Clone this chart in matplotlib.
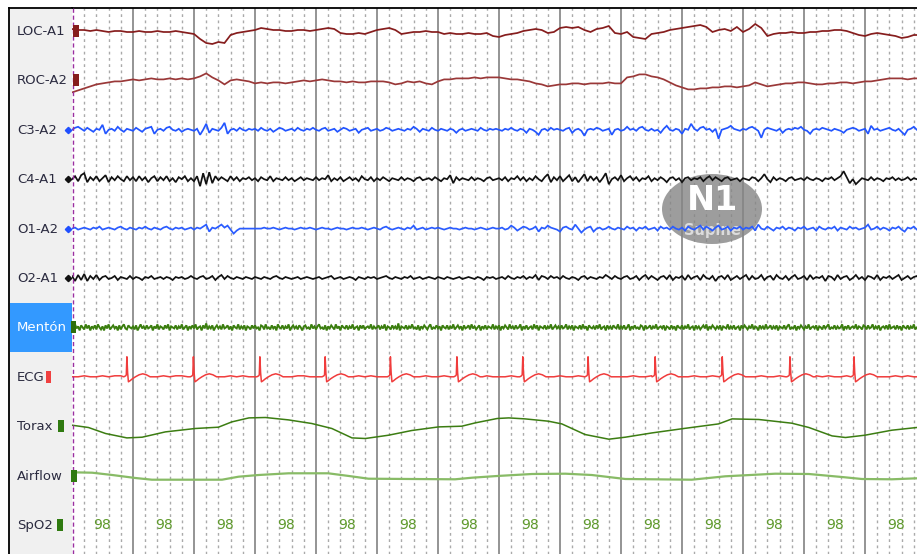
import matplotlib.pyplot as plt
import numpy as np
from matplotlib.patches import Rectangle, Ellipse

# montage, top to bottom
channels = ['LOC-A1', 'ROC-A2', 'C3-A2', 'C4-A1', 'O1-A2', 'O2-A1',
            'Mentón', 'ECG', 'Torax', 'Airflow', 'SpO2']

# EOG, 10 samples/s (deflection, up = positive)
loc_a1 = [2, 1, 1, 0, 1, 0, -1, 0, 0, -1,
          -1, 0, -1, -1, 0, -1, -1, 0, -1, -2,
          -3, -8, -12, -13, -11, -12, -4, -2, -1, 0,
          1, 3, 2, 1, 1, 0, 0, 1, 1, 0,
          1, 2, 3, 2, -2, -3, -3, -2, -3, -1,
          1, 2, 3, 1, -3, -2, -1, -1, 0, -1,
          -1, -3, -2, -3, -3, -2, -3, -3, -2, -5,
          -6, -4, -3, -2, 0, 1, 2, 1, -2, -1,
          3, 4, 3, 4, 1, -1, 2, 3, 5, -2,
          -3, -1, -6, -7, -8, -3, -2, -1, 1, 2,
          3, 4, 5, 6, 4, -1, 1, 2, 0, 4,
          -1, 2, 7, 3, -5, -3, -2, -2, -1, -2,
          -2, -1, -1, 0, 0, 1, 1, 0, -2, -4,
          -5, -3, -2, -3, -4, -5, -7, -6, -4, -4]
roc_a2 = [-12, -10, -8, -6, -4, -3, -2, -1, -1, 0,
          1, 0, 1, 2, 1, 1, 2, 1, 2, 1,
          2, 4, 7, 3, 0, -4, 0, 1, 0, -1,
          -3, -2, -3, -2, -2, -3, -2, -1, 0, -1,
          0, 1, 0, -1, -1, -2, -1, -2, -2, -1,
          -1, -1, -2, -4, -3, -1, -2, -1, -3, -4,
          -1, 1, 1, 2, 2, 2, 3, 2, 3, 3,
          3, 2, 1, 1, 0, -1, -3, -4, -6, -5,
          -4, -4, -3, -3, -4, -3, -3, -3, -2, -3,
          -3, 3, 4, 6, 6, 4, 3, 1, -2, -5,
          -7, -9, -9, -8, -8, -7, -7, -6, -6, -7,
          -6, -5, -2, -4, -6, -5, -4, -3, -3, -2,
          -2, -3, -4, -4, -3, -3, -2, -2, -3, -2,
          -1, -1, 0, 1, 2, 2, 2, 1, 2, 2]

# EEG, 20 samples/s
c3_a2 = [0, 2, 3, 1, -1, 2, 0, -2, 1, 0, 5, -4, 0, 1, -1, 3, 0, -2, 1, 0,
         -1, 2, 0, -2, 1, 2, 3, -4, 0, 1, -1, 2, 3, 0, -1, 1, -2, 0, 1, 0,
         -1, 1, -5, 0, 6, -3, 1, 0, -1, 2, 7, -4, 0, 1, -1, 2, 0, -1, 1, 0,
         1, -1, 2, 0, -1, 1, -2, 0, 2, 1, -1, 0, 1, -1, 2, 0, -1, 1, 0, 2,
         0, -1, 1, 2, -1, 0, 1, -2, 0, 2, 1, -1, 0, 1, -3, 0, 1, 2, -1, 0,
         1, -1, 0, 2, 1, -1, 0, 1, 0, -1, 1, 0, 3, 1, -2, 1, 0, -1, 2, 0,
         -1, 1, 0, -1, 1, 0, -3, 0, 1, -1, 0, 1, 0, -1, 2, 0, -1, 1, 0, 1,
         0, -1, 1, 0, 2, 0, -1, 1, 0, -3, 1, 0, -2, -5, 0, 1, -1, 2, 0, 1,
         0, -1, 1, 2, -3, 0, 1, -1, -6, 0, 1, 0, 2, 1, -1, 0, 1, -5, 0, 1,
         -1, 0, 3, 0, 1, -1, 2, 3, 0, -1, 1, -1, 0, -3, 1, 4, 0, -1, 1, 0,
         -4, 1, 0, 6, 1, -1, 2, 3, 0, 1, -2, 1, -9, 0, 1, 2, 4, 1, 0, -1,
         1, 0, 2, 3, 1, -1, -8, 0, 2, 1, 0, -1, 1, -3, 0, 1, 0, 2, 1, 3,
         0, -1, -4, 0, 1, 0, 2, 1, 0, -1, 1, 0, -1, -3, 0, 1, 2, 1, -1, 0,
         1, -4, 4, 0, 1, -1, 0, 1, 2, 0, -1, 1, -2, -5, 0, 1, 3, 0, 1, 0]
c4_a1 = [0, 3, -2, 4, 6, -3, 2, -1, 3, -2, 1, 4, -3, 2, -1, 3, 0, -2, 3, -1,
         2, -2, 3, -1, 2, -3, 1, 3, -2, 2, -1, 3, -2, 1, -3, 2, 0, 3, -2, 1,
         -2, 3, -7, 6, -5, 7, -4, 3, -1, 2, 0, -2, 3, -1, 2, -2, 1, 0, 2, -1,
         1, -2, 2, 0, -1, 3, -2, 1, 0, -1, 2, -1, 1, -2, 0, 2, -1, 1, 0, -1,
         2, -1, 1, 0, 4, -2, 1, -1, 2, -2, 0, 2, -1, 1, -2, 3, 0, -1, 2, -2,
         1, -1, 2, 0, -2, 1, 0, -1, 2, -1, 1, 0, -2, 1, 2, -1, 0, 1, -1, 2,
         0, -2, 1, 0, 4, -4, 2, -1, 1, 0, -1, 2, -1, 1, 0, -2, 1, 2, -1, 0,
         1, -1, 2, -2, 1, 0, 3, -1, 2, -2, 1, -1, 3, 0, -2, 2, 5, -3, 2, -1,
         3, -2, 1, 4, -2, 2, -3, 1, 5, -2, 3, -1, 2, -3, 1, 6, -5, 0, 2, -1,
         4, -2, 1, 3, -1, 2, -2, 1, 0, 3, -2, 1, -1, 2, 0, -3, 1, 2, -1, 1,
         -3, 1, 2, -1, 1, 0, 2, -2, 1, 3, -1, 2, 0, -2, 1, 2, -1, 0, 1, -2,
         1, 0, -1, 2, 1, -2, 1, 5, 0, -3, 2, -1, 1, 0, -2, 1, 2, -1, 0, 1,
         -1, 2, 0, -1, 1, 0, -2, 1, 0, 2, -1, 1, 3, 8, 2, -4, 0, -5, -2, 1,
         0, -1, 2, -1, 1, 0, -2, 1, 0, 2, -1, 1, -1, 0, 2, -1, 1, 0, -1, 1]
o1_a2 = [0, 1, -1, 0, 1, 0, -1, 1, 0, 2, -1, 0, 1, 0, -1, 1, 2, 0, -1, 1,
         0, -1, 1, 0, 2, 0, -1, 1, 0, -1, 1, 2, 0, -1, 1, 0, 1, -1, 0, 1,
         -1, 1, 0, 2, 4, -3, 1, 0, 2, 4, 1, 3, -1, -5, -2, 0, 0, 0, 0, 0,
         0, 0, 0, 1, 0, 0, 1, 0, -1, 0, 1, 0, 0, -1, 0, 1, 0, 0, 1, 0,
         -1, 0, 1, 0, 0, -1, 0, 1, 0, 0, -1, 0, 1, 0, 0, 1, 0, -1, 0, 1,
         0, -1, 1, 2, 0, -1, 0, 1, 0, -1, 1, 0, 3, -1, 0, 1, -1, 0, 1, 0,
         1, 0, -1, 0, 1, 0, 0, -1, 0, 1, 0, 0, -1, 0, 1, 0, -1, 0, 1, 0,
         0, 1, -1, 0, 3, 1, -2, 0, 2, 1, -1, 0, 2, -3, 1, 0, 3, 1, 0, -1,
         -3, 1, 2, 0, -1, 4, 0, -4, -1, 1, 2, -3, 0, 1, -1, 0, 2, 0, -1, 1,
         0, -1, 2, 0, 1, -2, 1, 0, 2, -1, 0, 1, -2, 2, 0, 1, -1, 2, 0, -1,
         1, -2, 2, 0, -1, 1, 3, -1, 2, 0, -2, 1, 3, -1, 0, 2, -2, 1, 0, 2,
         -1, 1, 0, 2, -2, 4, 0, -1, 2, 0, -2, 1, 0, 2, -1, 1, 0, -2, 1, 0,
         2, -1, 0, 1, -2, 2, 0, -1, 1, 0, 2, -2, 1, 0, -1, 2, 0, 1, -1, 0,
         1, 4, -1, 0, 2, -1, 1, 0, -2, 1, 0, 2, -1, -3, 1, 0, 2, -1, 0, 1]
o2_a1 = [2, -3, 3, -2, 4, -3, 2, -1, 3, -2, 1, 2, -1, 0, 2, -2, 1, 0, -1, 2,
         -1, 1, 0, -2, 1, 0, 2, -1, 0, 1, -1, 1, 0, -2, 1, 0, 1, -1, 0, 2,
         0, -1, 1, 2, -1, 0, 2, -2, 1, 3, -1, 2, 0, -1, 1, 0, -1, 1, 0, -1,
         1, 0, -1, 1, 0, -1, 1, 2, 0, -1, 1, 0, -1, 0, 1, -1, 0, 1, 0, -1,
         0, 1, -1, 0, 1, 2, -1, 0, 1, -1, 0, 1, 0, -2, 1, 0, -1, 1, 0, 1,
         -1, 0, 1, 2, 0, -1, 1, 0, -1, 1, 0, 2, -1, 0, 1, -1, 0, 1, 0, -1,
         1, 0, -1, 1, 0, -1, 0, 1, -1, 0, 1, 0, -1, 1, 0, -2, 1, 0, 1, -1,
         0, 1, -1, 2, 0, -1, 1, 0, 2, -1, 1, 0, 3, -2, 2, 1, -1, 2, 0, 1,
         -1, 2, 0, -1, 1, 0, -2, 1, 2, -1, 1, 0, -1, 1, 0, 3, 1, -1, 2, 0,
         -1, 1, 2, -1, 0, 2, -2, 1, 3, -1, 2, 0, -2, 1, 2, -1, 3, -2, 1, 0,
         2, -2, 3, -1, 1, 2, -2, 3, 0, -1, 2, -3, 1, 2, -1, 3, -2, 0, 2, -1,
         1, 3, -2, 2, -1, 0, 3, -2, 1, 2, -2, 3, 0, -1, 2, -2, 1, 3, -1, 0,
         2, -2, 3, -1, 1, 0, 2, -3, 2, 1, -2, 3, -1, 1, 2, -2, 0, 3, -1, 1,
         -2, 2, 1, -1, 3, -2, 1, 0, 2, -1, 1, 3, -2, 0, 2, -1, 1, 2, -2, 1]

# chin EMG, 40 samples/s
menton = [2, -2, 3, -1, 1, -3, 2, 0, -2, 3, -1, 2, -3, 1, -1, 2, -2, 3, 0, -2, 1, -3, 2, -1, 3, -2, 0, 2, -1, 1, -3, 2, -2, 1, 3, -1, -2, 2, 0, -1,
          1, -2, 2, -3, 0, 3, -1, 1, -2, 2, -1, 0, 2, -3, 1, -1, 3, -2, 1, 0, -2, 2, -1, 3, -3, 1, 0, -1, 2, -2, 1, -1, 3, -2, 0, 2, -3, 1, -1, 2,
          -1, 3, -2, 0, 1, -3, 2, -1, 4, -2, 1, -1, 2, -3, 0, 2, -1, 1, -2, 3, -1, 0, 2, -2, 1, -3, 2, 0, -1, 3, -2, 1, -1, 2, -3, 1, 0, -2, 2, -1,
          2, -1, 0, -3, 2, 1, -2, 3, -1, 0, -2, 2, -1, 1, -3, 3, 0, -1, 2, -2, 1, -1, 3, -3, 0, 2, -1, 1, -2, 2, 0, -3, 1, 2, -1, 0, -2, 3, -1, 1,
          -2, 1, 3, -1, 0, -2, 2, -3, 1, -1, 2, 0, -2, 3, -1, 1, -3, 2, 0, -1, 2, -2, 1, -1, 3, -2, 0, 1, -3, 2, -1, 2, -2, 0, 1, -1, 3, -2, 1, -1,
          0, 2, -2, 1, -1, 3, -3, 1, 0, -2, 2, -1, 1, -2, 4, -3, 1, 0, -1, 2, -2, 1, -1, 3, -1, 0, -2, 2, -3, 1, -1, 2, 0, -2, 1, 3, -2, 0, -1, 2,
          -1, 1, -3, 2, 0, -1, 2, -2, 1, -1, 3, -2, 0, 2, -1, 1, -3, 2, -1, 0, 2, -2, 3, -1, 1, -2, 0, 2, -3, 1, -1, 2, -2, 1, 0, -1, 3, -2, 1, -1,
          2, -3, 1, -1, 2, 0, -2, 3, -1, 1, -2, 2, -1, 0, 3, -3, 1, -1, 2, -2, 0, 1, -2, 3, -1, 2, -3, 1, 0, -1, 2, -2, 1, -1, 3, -2, 0, 2, -1, 1,
          -2, 2, -1, 0, 3, -2, 1, -1, 2, -3, 1, 0, -1, 2, -2, 3, -1, 1, -3, 2, 0, -1, 1, -2, 2, -1, 3, -2, 0, 1, -3, 2, -1, 1, -2, 2, 0, -1, 3, -2,
          1, -1, 2, -2, 0, 3, -3, 1, -1, 2, -1, 0, -2, 2, 1, -3, 2, -1, 0, 2, -2, 1, -1, 3, -2, 0, 1, -1, 2, -3, 1, 0, -2, 2, -1, 1, -3, 2, 0, -1,
          2, -2, 1, -1, 3, -2, 0, 1, -3, 2, -1, 1, -2, 0, 2, -1, 3, -3, 1, -1, 2, 0, -2, 1, -1, 2, -3, 1, 0, -1, 3, -2, 1, -1, 2, -2, 0, 1, -3, 2,
          -1, 2, 0, -2, 1, -1, 3, -2, 1, 0, -3, 2, -1, 1, -2, 3, -1, 0, 2, -2, 1, -1, 2, -3, 1, 0, -1, 2, -2, 1, 3, -2, 0, -1, 2, -3, 1, -1, 2, 0,
          -2, 1, -1, 3, -2, 0, 1, -1, 2, -3, 1, 0, -2, 2, -1, 1, 3, -2, 0, -1, 2, -2, 1, -1, 0, 3, -3, 1, -1, 2, -2, 0, 1, -1, 3, -2, 1, 0, -2, 2,
          1, -2, 2, -1, 0, 3, -2, 1, -1, 2, -3, 0, 1, -1, 2, -2, 3, -1, 0, 1, -2, 2, -1, 1, -3, 2, 0, -1, 2, -2, 1, -1, 3, -2, 0, 1, -1, 2, -2, 1]

# ECG: R-peak times (s), beat shape around each peak, baseline at 10 samples/s
ecg_r_peaks = [0.90, 1.99, 3.08, 4.15, 5.22, 6.31, 7.39, 8.46, 9.56, 10.66, 11.77, 12.82]
beat_offsets = [-0.05, -0.02, -0.01, 0.0, 0.012, 0.025, 0.05, 0.09, 0.14, 0.2, 0.26, 0.32, 0.38, 0.42]
beat_shape = [0, 1, 2, 20, 4, -5, -4, -2, 0, 2, 3, 2, 0, 0]
ecg_baseline = [0, 0, 1, 0, 0, 1, 0, 1, 1, 0,
                0, 0, 1, 0, 0, 1, 0, 1, 1, 0,
                1, 0, 0, 1, 0, 0, 1, 0, 1, 0,
                0, 1, 0, 0, 1, 0, 0, 1, 1, 0,
                0, 0, 1, 0, 1, 0, 0, 1, 0, 1,
                0, 0, 0, 1, 0, 0, 1, 0, 1, 0,
                0, 1, 0, 0, 1, 0, 1, 0, 1, 0,
                0, 0, 1, 0, 0, 1, 0, 0, 1, 0,
                1, 0, 0, 1, 0, 0, 1, 0, 1, 0,
                0, 0, 1, 0, 0, 1, 0, 1, 0, 1,
                0, 0, 1, 0, 0, 1, 0, 1, 0, 0,
                1, 0, 0, 1, 0, 0, 1, 0, 1, 0,
                0, 0, 1, 0, 1, 0, 0, 1, 0, 1,
                0, 0, 1, 0, 0, 1, 0, 1, 0, 0]

# respiratory effort and airflow (time in s, deflection)
torax_t = [0, 0.27, 0.55, 0.9, 1.15, 1.53, 2.02, 2.4, 2.62, 2.9, 3.17, 3.55, 3.93, 4.26,
           4.59, 4.81, 5.19, 5.57, 6.01, 6.39, 6.61, 6.97, 7.16, 7.43, 7.81, 8.03, 8.41,
           8.8, 9.07, 9.51, 10.03, 10.6, 10.82, 11.26, 11.8, 12.08, 12.46, 12.68, 13.0,
           13.44, 13.85]
torax = [1, -1.3, -7.3, -11.7, -11, -5.7, -2.3, -1, 4.3, 8.3, 8.7, 6.3, 2.7, -2.3,
         -11.7, -12.3, -9, -4.3, -0.7, 0, 3.3, 7.7, 8.3, 7.3, 5, 2.3, -8.3,
         -13, -11, -6.7, -2.3, 2.3, 7.3, 6.7, 3, -1.3, -9.7, -11.3, -9,
         -4, -1.3]
airflow_t = [0, 0.33, 0.66, 1.04, 1.31, 2.46, 2.73, 3.06, 3.55, 4.2, 4.54, 4.86, 6.28,
             6.56, 6.97, 7.54, 8.09, 8.52, 9.07, 10.16, 10.71, 11.53, 12.08, 12.62,
             12.95, 13.44, 13.85]
airflow = [3.3, 2.9, 0.6, -2.4, -4.1, -4.1, -1.1, 0.6, 2.3, 2.3, -0.4, -3.1, -3.7,
           -2.1, -0.4, 1.6, 1.9, 0.6, -3.4, -4.1, -0.7, 1.9, 1.6, -1.4,
           -3.4, -3.7, -2.7]

# SpO2 readout, one per second
spo2 = [98, 98, 98, 98, 98, 98, 98, 98, 98, 98, 98, 98, 98, 98]

W, H = 917, 554
PX_PER_S = 61.0
ROW0, ROW_STEP = 31, 49.4
rows = [ROW0 + ROW_STEP * i for i in range(len(channels))]

fig = plt.figure(figsize=(W / 100, H / 100), dpi=100)
fig.patch.set_facecolor('white')

# trace area (seconds on x, screen rows on y)
ax = fig.add_axes([72 / W, 0, (W - 72) / W, (H - 8) / H])
ax.set_xlim(0, (W - 72) / PX_PER_S)
ax.set_ylim(H, 8)
ax.set_xticks([])
ax.set_yticks([])
for s in ['left', 'right', 'bottom']:
    ax.spines[s].set_visible(False)
ax.spines['top'].set_linewidth(1.3)

# channel label panel
lab = fig.add_axes([9 / W, 0, 63 / W, (H - 8) / H])
lab.set_xlim(9, 72)
lab.set_ylim(H, 8)
lab.set_facecolor('#f0f0f0')
lab.set_xticks([])
lab.set_yticks([])
for s in ['right', 'bottom']:
    lab.spines[s].set_visible(False)
lab.spines['top'].set_linewidth(1.3)
lab.spines['left'].set_linewidth(1.3)

# grid: solid per second, dotted per 0.2 s
for k in range(1, 14):
    ax.axvline(k, color='#949494', lw=1.4, zorder=1)
for k in range(1, 70):
    if k % 5:
        ax.axvline(k * 0.2, color='#aaaaaa', lw=1.0, ls=(0, (2, 2.5)), zorder=1)
ax.axvline(0.01, color='#9a2fa0', lw=1.0, ls=(0, (3, 2)), zorder=5)

# sleep stage badge
bx = (712 - 72) / PX_PER_S
ax.add_patch(Ellipse((bx, 209), 100 / PX_PER_S, 70, color='#858585', alpha=0.8, lw=0, zorder=2))
ax.text(bx, 201, 'N1', color='white', fontsize=24, fontweight='bold',
        ha='center', va='center', family='DejaVu Sans', zorder=2.2)
ax.text(bx, 230, 'Supine', color='white', fontsize=10.5, fontweight='bold', alpha=0.65,
        ha='center', va='center', family='DejaVu Sans', zorder=2.2)


def trace(values, rate, row, color, lw=1.25):
    v = np.asarray(values, dtype=float)
    t = np.arange(len(v)) / rate
    ax.plot(t, row - v, color=color, lw=lw, zorder=3, solid_joinstyle='miter')


trace(loc_a1, 10, rows[0], '#861d1d')
trace(roc_a2, 10, rows[1], '#9a3838')
trace(c3_a2, 20, rows[2], '#2255ff')
trace(c4_a1, 20, rows[3], '#111111')
trace(o1_a2, 20, rows[4], '#2a5cff')
trace(o2_a1, 20, rows[5], '#111111')
trace(menton, 40, rows[6], '#3a7d0e', lw=1.4)

# ECG assembled from baseline and beats
base_t = np.arange(len(ecg_baseline)) / 10
keep = np.ones(len(base_t), bool)
for r in ecg_r_peaks:
    keep &= ~((base_t > r + beat_offsets[0] - 0.01) & (base_t < r + beat_offsets[-1] + 0.01))
et = list(base_t[keep])
ev = list(np.asarray(ecg_baseline, float)[keep])
for r in ecg_r_peaks:
    et += [r + o for o in beat_offsets]
    ev += beat_shape
order = np.argsort(et)
ax.plot(np.asarray(et)[order], rows[7] - np.asarray(ev)[order], color='#f03c3c', lw=1.1, zorder=3)

ax.plot(torax_t, rows[8] - np.asarray(torax), color='#3c7d12', lw=1.1, zorder=3)
ax.plot(airflow_t, rows[9] - np.asarray(airflow), color='#88bb66', lw=1.6, zorder=3)

for k, v in enumerate(spo2):
    ax.text(k + 0.5, rows[10], str(v), color='#5f9a2c', fontsize=10,
            ha='center', va='center', family='DejaVu Sans')

# labels and channel markers
lab.add_patch(Rectangle((10, rows[6] - 24.5), 62, 49, color='#3399ff', lw=0, zorder=1))
for i, name in enumerate(channels):
    lab.text(17, rows[i] + 0.5, name, fontsize=9.5, family='DejaVu Sans',
             color='white' if name == 'Mentón' else '#2b2b40', ha='left', va='center', zorder=3)

marks = {  # x-left, width, colour
    'LOC-A1': (72.5, 6, '#861d1d'), 'ROC-A2': (72.5, 6, '#861d1d'),
    'Mentón': (71, 5, '#2f6e0c'), 'ECG': (46, 5, '#f04040'),
    'Torax': (58, 6, '#2f7a10'), 'Airflow': (71, 6, '#2f7a10'), 'SpO2': (57, 6, '#2f7a10'),
}
for i, name in enumerate(channels):
    if name in marks:
        x0, w, c = marks[name]
        lab.add_patch(Rectangle((x0, rows[i] - 6), w, 12, color=c, lw=0, zorder=4, clip_on=False))
    else:
        c = '#1f4fff' if name in ('C3-A2', 'O1-A2') else '#111111'
        lab.plot([67.5], [rows[i]], marker='D', ms=3.2, color=c, zorder=4, clip_on=False)

fig.savefig('out.png', dpi=100)
